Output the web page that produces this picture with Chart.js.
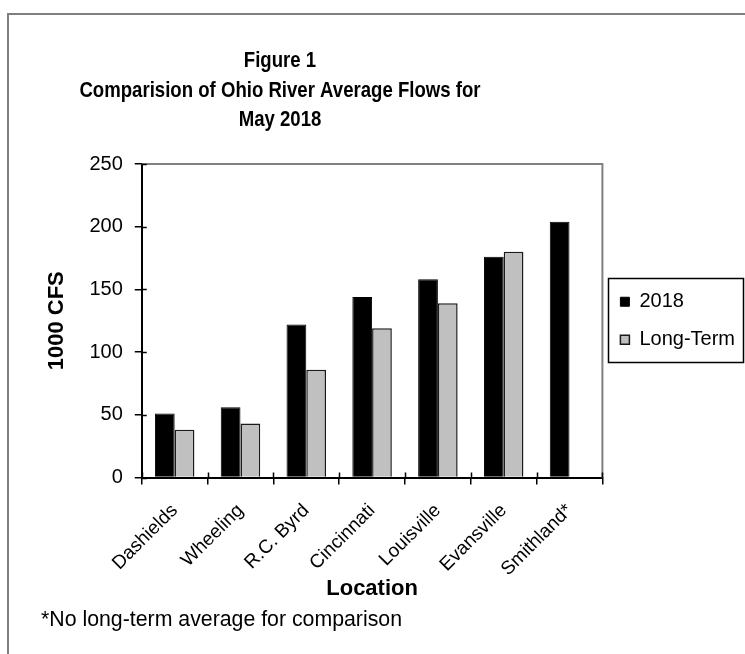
<!DOCTYPE html>
<html>
<head>
<meta charset="utf-8">
<script src="https://cdn.jsdelivr.net/npm/chart.js"></script>
<style>
  body { margin: 0; background: #fff; overflow: hidden; }
  #frame { position: absolute; left: 7px; top: 13px; width: 800px; height: 700px; border: 2px solid #7f7f7f; }
  #chart { position: absolute; left: 0; top: 0; }
</style>
</head>
<body>
<div id="frame"></div>
<canvas id="chart" width="745" height="654"></canvas>
<script>
// chart data
const locations = ['Dashields', 'Wheeling', 'R.C. Byrd', 'Cincinnati', 'Louisville', 'Evansville', 'Smithland*'];
const flows2018 = [51, 56, 122, 144, 158, 176, 204];
const flowsLongTerm = [38, 43, 86, 119, 139, 180, null];
const yTicks = [0, 50, 100, 150, 200, 250];
const titleLines = ['Figure 1', 'Comparision of Ohio River Average Flows for', 'May 2018'];
const footnote = '*No long-term average for comparison';

const FONT = "'Liberation Sans', Arial, sans-serif";
Chart.defaults.font.family = FONT;
Chart.defaults.color = '#000';

// Title, footnote, plot frame, crossing ticks and legend border
const extras = {
  id: 'extras',
  afterDraw(chart) {
    const ctx = chart.ctx;
    const area = chart.chartArea;
    const x = chart.scales.x, y = chart.scales.y;
    ctx.save();

    // gray top/right frame of the plot area
    ctx.strokeStyle = '#808080';
    ctx.lineWidth = 2;
    ctx.beginPath();
    ctx.moveTo(area.left, area.top);
    ctx.lineTo(area.right, area.top);
    ctx.lineTo(area.right, area.bottom);
    ctx.stroke();

    // inner half of the crossing tick marks
    ctx.strokeStyle = '#000';
    ctx.lineWidth = 1.5;
    ctx.beginPath();
    yTicks.forEach(v => {
      const py = Math.round(y.getPixelForValue(v)) + 0.5;
      ctx.moveTo(area.left, py);
      ctx.lineTo(area.left + 5, py);
    });
    for (let i = 0; i <= locations.length; i++) {
      const px = Math.round(x.getPixelForValue(i - 0.5)) + 0.5;
      ctx.moveTo(px, area.bottom);
      ctx.lineTo(px, area.bottom - 5);
    }
    ctx.stroke();

    // legend border
    const boxes = chart.legend.legendHitBoxes;
    if (boxes && boxes.length) {
      const l = Math.min(...boxes.map(b => b.left)) - 12;
      const t = Math.min(...boxes.map(b => b.top)) - 14;
      const r = Math.max(...boxes.map(b => b.left + b.width)) + 8;
      const btm = Math.max(...boxes.map(b => b.top + b.height)) + 12;
      ctx.strokeStyle = '#000';
      ctx.lineWidth = 1.5;
      ctx.strokeRect(Math.round(l) + 0.5, Math.round(t) + 0.5, Math.round(r - l), Math.round(btm - t));
    }

    // title (condensed bold, like Arial Narrow)
    ctx.fillStyle = '#000';
    ctx.textAlign = 'center';
    ctx.textBaseline = 'middle';
    ctx.font = 'bold 22px ' + FONT;
    titleLines.forEach((line, i) => {
      ctx.save();
      ctx.translate(280, 61 + i * 29.5);
      ctx.scale(0.845, 1);
      ctx.fillText(line, 0, 0);
      ctx.restore();
    });

    // footnote
    ctx.textAlign = 'left';
    ctx.font = '21.3px ' + FONT;
    ctx.fillText(footnote, 41, 620);
    ctx.restore();
  }
};

new Chart(document.getElementById('chart'), {
  type: 'bar',
  data: {
    labels: locations,
    datasets: [
      {
        label: '2018',
        data: flows2018,
        backgroundColor: '#000',
        borderColor: '#000',
        borderWidth: 1
      },
      {
        label: 'Long-Term',
        data: flowsLongTerm,
        backgroundColor: '#c0c0c0',
        borderColor: '#1a1a1a',
        borderWidth: 1.5
      }
    ]
  },
  options: {
    responsive: false,
    animation: false,
    devicePixelRatio: 1,
    categoryPercentage: 0.6,
    barPercentage: 1.0,
    layout: { padding: { left: 44, top: 164, right: 0, bottom: 52 } },
    plugins: {
      title: { display: false },
      tooltip: { enabled: false },
      legend: {
        position: 'right',
        fullSize: false,
        labels: {
          boxWidth: 9,
          boxHeight: 9,
          padding: 18,
          font: { size: 20 },
          color: '#000'
        }
      }
    },
    scales: {
      x: {
        grid: { drawOnChartArea: false, tickLength: 7, color: '#000', lineWidth: 1.5 },
        border: { color: '#000', width: 2 },
        ticks: { minRotation: 45, maxRotation: 45, font: { size: 19 }, padding: 15, color: '#000' },
        title: { display: true, text: 'Location', font: { size: 22, weight: 'bold' }, padding: { top: -20, bottom: 0 } }
      },
      y: {
        min: 0,
        max: 250,
        afterBuildTicks(scale) { scale.ticks = yTicks.map(v => ({ value: v })); },
        grid: { drawOnChartArea: false, tickLength: 7, color: '#000', lineWidth: 1.5 },
        border: { color: '#000', width: 2 },
        ticks: { font: { size: 20 }, padding: 12, color: '#000' },
        title: { display: true, text: '1000 CFS', font: { size: 22, weight: 'bold' }, padding: { top: 0, bottom: 7 } }
      }
    }
  },
  plugins: [extras]
});
</script>
</body>
</html>
